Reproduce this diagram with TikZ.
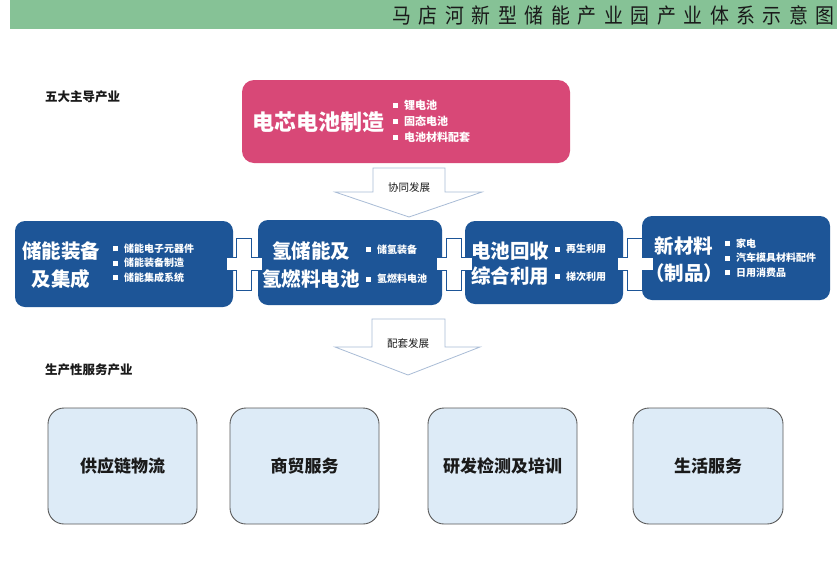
\documentclass[tikz,border=0pt]{standalone}
\usepackage{fontspec}
\usepackage{graphicx}
\setmainfont{Noto Sans CJK SC}
\newfontfamily\titlefont[LetterSpace=40]{Noto Sans CJK SC}
\usepackage{xcolor}
\usepackage{tikz}
\usetikzlibrary{positioning}
\definecolor{HeadGreen}{HTML}{86C296}
\definecolor{CorePink}{HTML}{D84877}
\definecolor{ChainBlue}{HTML}{1D5597}
\definecolor{ServiceBg}{HTML}{DDEBF7}
\definecolor{ServiceLine}{HTML}{5A5A5A}
\definecolor{ArrowLine}{HTML}{A9BCD6}
\definecolor{TextDark}{HTML}{1A1A1A}
\newcommand{\itm}{\rule[1pt]{5pt}{5pt}\hspace{6pt}}
\tikzset{
  chainbox/.style={fill=ChainBlue, rounded corners=10pt, inner sep=0pt},
  mainlabel/.style={text=white, font=\bfseries\fontsize{19.5}{28}\selectfont,
    align=center, inner sep=0pt},
  itemlist/.style={text=white, font=\bfseries\fontsize{10}{14.5}\selectfont,
    align=left, inner sep=0pt, anchor=west},
  servicebox/.style={draw=ServiceLine, line width=0.9pt, fill=ServiceBg,
    rounded corners=16pt, minimum width=149pt, minimum height=116pt,
    font=\bfseries\fontsize{17}{20}\selectfont, text=TextDark},
  sectionlabel/.style={anchor=west, inner sep=0pt, text=TextDark,
    font=\bfseries\fontsize{12.5}{15}\selectfont},
  arrowlabel/.style={inner sep=0pt, text=TextDark, font=\fontsize{10.5}{12}\selectfont},
  flowarrow/.style={draw=ArrowLine, line width=0.8pt, fill=white},
  plussign/.style={draw=ChainBlue, line width=0.8pt, fill=white}
}
\begin{document}
\begin{tikzpicture}[x=1pt, y=-1pt]
  \useasboundingbox[fill=white] (0,0) rectangle (837,573);
  % header bar
  \fill[HeadGreen] (10,0) rectangle (837,29);
  \node[anchor=east, inner sep=0pt, text=TextDark] (title) at (835,15)
    {\scalebox{0.9}[1]{\titlefont\fontsize{21}{24}\selectfont 马店河新型储能产业园产业体系示意图}};

  \node[sectionlabel] (leadlabel) at (45,97) {五大主导产业};
  \node[sectionlabel] (servlabel) at (45,370) {生产性服务产业};

  % core industry
  \node[fill=CorePink, rounded corners=12pt, minimum width=328pt,
    minimum height=83pt] (core) at (406,121.5) {};
  \node[text=white, inner sep=0pt, font=\bfseries\fontsize{22}{26}\selectfont]
    (coreT) at (318.5,122) {电芯电池制造};
  \node[itemlist, font=\bfseries\fontsize{11}{16}\selectfont] (coreL) at (393,121)
    {\itm 锂电池\\ \itm 固态电池\\ \itm 电池材料配套};

  % synergy arrow
  \draw[flowarrow] (373,168) -- (445,168) -- (445,192) -- (482,192) -- (409,217)
    -- (335,192) -- (373,192) -- cycle;
  \node[arrowlabel] (synT) at (409,188) {协同发展};

  % industry chain
  \node[chainbox, minimum width=218pt, minimum height=86pt] (storage) at (124,264) {};
  \node[mainlabel] (storageT) at (61,265) {储能装备\\及集成};
  \node[itemlist] (storageL) at (113,263)
    {\itm 储能电子元器件\\ \itm 储能装备制造\\ \itm 储能集成系统};

  \node[chainbox, minimum width=184pt, minimum height=85pt] (hydro) at (350,262.5) {};
  \node[mainlabel] (hydroT) at (311,265) {氢储能及\\氢燃料电池};
  \node[itemlist] (hydroL) at (366,264)
    {\itm 储氢装备\\[15pt] \itm 氢燃料电池};

  \node[chainbox, minimum width=158pt, minimum height=83pt] (recycle) at (544,262.5) {};
  \node[mainlabel, font=\bfseries\fontsize{19.5}{25}\selectfont] (recycleT) at (510,263.5)
    {电池回收\\综合利用};
  \node[itemlist] (recycleL) at (555,262.5)
    {\itm 再生利用\\[13pt] \itm 梯次利用};

  \node[chainbox, minimum width=188pt, minimum height=84pt] (material) at (736,258) {};
  \node[mainlabel, font=\bfseries\fontsize{19.5}{27}\selectfont] (materialT) at (684,259.5)
    {新材料\\（制品）};
  \node[itemlist] (materialL) at (725,258)
    {\itm 家电\\ \itm 汽车模具材料配件\\ \itm 日用消费品};

  % plus marks
  \foreach \px in {244,454,635}{
    \draw[plussign] ({\px-7.5},238) -- ({\px+7.5},238) -- ({\px+7.5},257.5)
      -- ({\px+18},257.5) -- ({\px+18},270.5) -- ({\px+7.5},270.5)
      -- ({\px+7.5},290) -- ({\px-7.5},290) -- ({\px-7.5},270.5)
      -- ({\px-18},270.5) -- ({\px-18},257.5) -- ({\px-7.5},257.5) -- cycle;
  }

  % support arrow
  \draw[flowarrow] (372,319) -- (445,319) -- (445,347) -- (480,347) -- (408,375)
    -- (335,347) -- (372,347) -- cycle;
  \node[arrowlabel] (supT) at (408,343) {配套发展};

  % producer services
  \node[servicebox] (logistics) at (122.5,466) {供应链物流};
  \node[servicebox] (trade) at (304.5,466) {商贸服务};
  \node[servicebox] (research) at (502.5,466) {研发检测及培训};
  \node[servicebox, minimum width=150pt] (living) at (708,466) {生活服务};
\end{tikzpicture}
\end{document}
